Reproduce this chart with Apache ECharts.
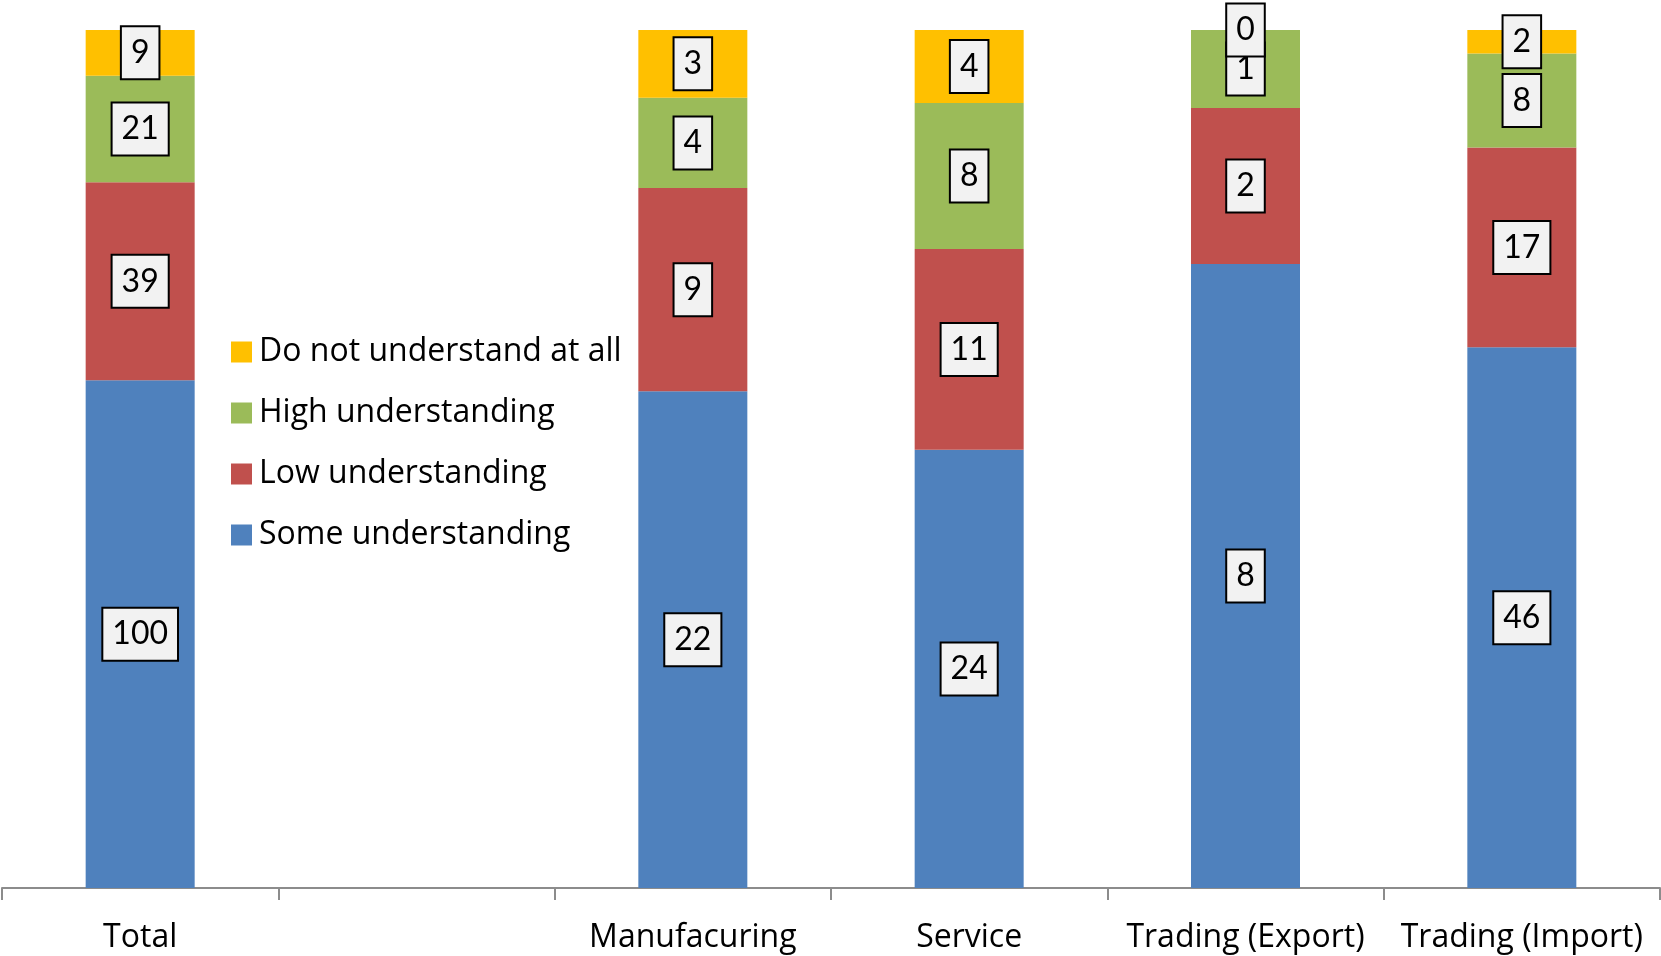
<!DOCTYPE html>
<html>
<head>
<meta charset="utf-8">
<script src="https://cdn.jsdelivr.net/npm/echarts@6/dist/echarts.min.js"></script>
<style>
  html, body { margin: 0; padding: 0; background: #fff; }
  #chart { width: 1661px; height: 956px; }
</style>
</head>
<body>
<div id="chart"></div>
<script>
// categories (second slot is an empty gap in the original)
var categories = ['Total', '', 'Manufacuring', 'Service', 'Trading (Export)', 'Trading (Import)'];

// raw counts per group
var someUnderstanding = [100, '-', 22, 24, 8, 46];
var lowUnderstanding  = [39, '-', 9, 11, 2, 17];
var highUnderstanding = [21, '-', 4, 8, 1, 8];
var doNotUnderstand   = [9, '-', 3, 4, 0, 2];

var TEXT_FONT = 'Open Sans';
var LABEL_FONT = 'Lato';

function totals() {
  return categories.map(function (c, i) {
    if (someUnderstanding[i] === '-') return null;
    return someUnderstanding[i] + lowUnderstanding[i] + highUnderstanding[i] + doNotUnderstand[i];
  });
}
var sums = totals();

// share of each count in its column (100% stacked)
function share(arr) {
  return arr.map(function (v, i) {
    if (v === '-') return '-';
    return v / sums[i] * 100;
  });
}

function makeSeries(name, raw, color) {
  return {
    name: name,
    type: 'bar',
    stack: 'all',
    barWidth: 109,
    clip: false,
    data: share(raw),
    itemStyle: { color: color },
    label: {
      show: true,
      position: 'inside',
      formatter: function (p) { return raw[p.dataIndex]; },
      color: '#000',
      fontFamily: LABEL_FONT,
      fontSize: 32,
      backgroundColor: '#f2f2f2',
      borderColor: '#000',
      borderWidth: 2,
      padding: [11, 9, 8, 9]
    }
  };
}

var chart = echarts.init(document.getElementById('chart'));
chart.setOption({
  animation: false,
  grid: { left: 2, right: 1, top: 30, bottom: 68, containLabel: false },
  legend: {
    orient: 'vertical',
    left: 226,
    top: 331,
    itemWidth: 21,
    itemHeight: 21,
    itemGap: 29,
    icon: 'rect',
    textStyle: { fontFamily: TEXT_FONT, fontSize: 32, color: '#000', lineHeight: 30, padding: [0, 0, 0, 2] },
    data: ['Do not understand at all', 'High understanding', 'Low understanding', 'Some understanding']
  },
  xAxis: {
    type: 'category',
    data: categories,
    axisLine: { lineStyle: { color: '#8c8c8c', width: 2 } },
    axisTick: { show: true, interval: 0, length: 12, lineStyle: { color: '#8c8c8c', width: 2 } },
    axisLabel: { interval: 0, fontFamily: TEXT_FONT, fontSize: 32, color: '#000', margin: 34 }
  },
  yAxis: {
    type: 'value',
    min: 0,
    max: 100,
    show: false
  },
  series: [
    makeSeries('Some understanding', someUnderstanding, '#4f81bd'),
    makeSeries('Low understanding', lowUnderstanding, '#c0504d'),
    makeSeries('High understanding', highUnderstanding, '#9bbb59'),
    makeSeries('Do not understand at all', doNotUnderstand, '#ffc000')
  ]
});
</script>
</body>
</html>
